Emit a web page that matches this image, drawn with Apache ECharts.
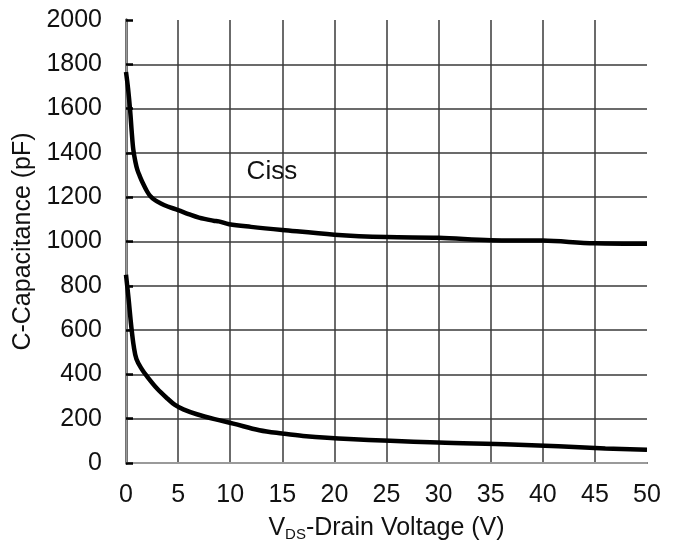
<!DOCTYPE html>
<html>
<head>
<meta charset="utf-8">
<script src="https://cdn.jsdelivr.net/npm/echarts@6/dist/echarts.min.js"></script>
<style>
html,body{margin:0;padding:0;background:#fff;}
#chart{width:689px;height:549px;}
</style>
</head>
<body>
<div id="chart"></div>
<script>
// Drain voltage axis (V) and capacitance axis (pF)
var xTicks = {min: 0, max: 50, interval: 5};
var yTicks = {min: 0, max: 2000, interval: 200};

// Ciss curve: [VDS (V), C (pF)]
var ciss = [[0,1765],[0.2,1690],[0.4,1590],[0.55,1495],[0.7,1415],[0.9,1360],[1.1,1322],[1.35,1292],[1.6,1265],[2,1228],[2.3,1207],[2.8,1186],[3.3,1173],[4,1158],[5,1142],[6,1124],[7,1108],[8.4,1094],[8.9,1091],[9.9,1078],[12,1066],[15,1052],[20,1031],[25,1020],[30,1017],[35,1006],[40,1004],[45,992],[50,990]];
// Coss curve: [VDS (V), C (pF)]
var coss = [[0,850],[0.25,740],[0.5,620],[0.75,525],[1,470],[1.5,425],[2,392],[3,335],[4,290],[4.7,262],[5.5,242],[6.8,220],[8.5,198],[10.3,178],[12.8,148],[15,133],[17,122],[21.4,108],[30,92],[37,84],[46,66],[50,60]];
// Curve label
var cissLabel = {name: 'Ciss', coord: [14, 1314]};

var FONT = '"Liberation Sans", Arial, sans-serif';
var chart = echarts.init(document.getElementById('chart'));
chart.setOption({
  animation: false,
  backgroundColor: '#ffffff',
  grid: {left: 126, right: 42, top: 20, bottom: 86, containLabel: false, outerBoundsMode: 'none'},
  xAxis: [{
    type: 'value', min: xTicks.min, max: xTicks.max, interval: xTicks.interval,
    name: 'V{sub|DS}-Drain Voltage (V)', nameLocation: 'middle', nameGap: 52,
    nameTextStyle: {fontFamily: FONT, fontSize: 25, color: '#111',
      rich: {sub: {fontFamily: FONT, fontSize: 15, color: '#111', verticalAlign: 'bottom', padding: [12,0,0,0]}}},
    axisLine: {show: true, lineStyle: {color: '#111', width: 2}},
    axisTick: {show: false},
    axisLabel: {fontFamily: FONT, fontSize: 25, color: '#111', margin: 20, formatter: function (v) { return String(v); }},
    splitLine: {show: true, showMinLine: false, showMaxLine: false, lineStyle: {color: '#3a3a3a', width: 1.5}}
  }, {
    type: 'value', position: 'top', min: xTicks.min, max: xTicks.max, interval: xTicks.interval,
    axisLine: {show: true, lineStyle: {color: '#9a9a9a', width: 2}},
    axisTick: {show: false}, axisLabel: {show: false}, splitLine: {show: false}
  }],
  yAxis: [{
    type: 'value', min: yTicks.min, max: yTicks.max, interval: yTicks.interval,
    name: 'C-Capacitance (pF)', nameLocation: 'middle', nameGap: 83,
    nameTextStyle: {fontFamily: FONT, fontSize: 25, color: '#111'},
    axisLine: {show: true, lineStyle: {color: '#000', width: 3}},
    axisTick: {show: true, inside: true, length: 7, lineStyle: {color: '#000', width: 2.5}},
    axisLabel: {fontFamily: FONT, fontSize: 25, color: '#111', margin: 24, formatter: function (v) { return String(v); }},
    splitLine: {show: true, showMinLine: false, showMaxLine: false, lineStyle: {color: '#3a3a3a', width: 1.5}}
  }, {
    type: 'value', position: 'right', min: yTicks.min, max: yTicks.max, interval: yTicks.interval,
    axisLine: {show: true, lineStyle: {color: '#9a9a9a', width: 2.5}},
    axisTick: {show: false}, axisLabel: {show: false}, splitLine: {show: false}
  }],
  series: [{
    name: 'Ciss', type: 'line', data: ciss, smooth: 0.35, symbol: 'none',
    lineStyle: {color: '#000', width: 4.5}, clip: true,
    markPoint: {
      symbol: 'circle', symbolSize: 0,
      label: {show: true, position: 'inside', formatter: '{b}', fontFamily: FONT, fontSize: 26, color: '#111'},
      data: [{name: cissLabel.name, coord: cissLabel.coord}]
    }
  }, {
    name: 'Coss', type: 'line', data: coss, smooth: 0.35, symbol: 'none',
    lineStyle: {color: '#000', width: 4.5}, clip: true
  }]
});
</script>
</body>
</html>
